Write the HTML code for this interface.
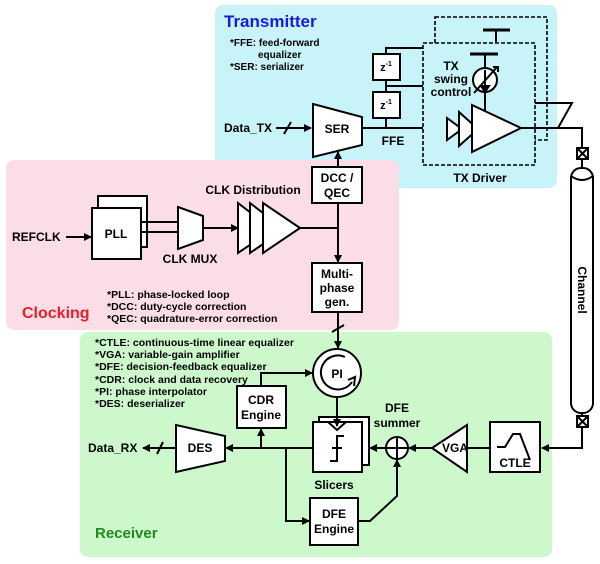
<!DOCTYPE html>
<html><head><meta charset="utf-8"><style>
html,body{margin:0;padding:0;background:#fff}
svg{display:block}
text{font-family:"Liberation Sans",Arial,sans-serif;font-weight:bold;fill:#000}
</style></head><body>
<svg width="600" height="564" viewBox="0 0 600 564" xmlns="http://www.w3.org/2000/svg">
<defs>
<marker id="a" markerWidth="8" markerHeight="8" refX="7" refY="4" orient="auto" markerUnits="userSpaceOnUse"><path d="M0,0 L8,4 L0,8 z" fill="#000"/></marker>
</defs>
<rect x="215" y="5" width="342" height="183" rx="8" fill="#c8f3f8"/>
<rect x="6" y="160" width="393" height="170" rx="8" fill="#fbdde8"/>
<rect x="80" y="332" width="472" height="225" rx="8" fill="#cdf8cc"/>

<g stroke="#000" stroke-width="2" fill="none">
<line x1="276" y1="128" x2="311" y2="128" marker-end="url(#a)"/>
<line x1="284" y1="134" x2="291" y2="122"/>
<path d="M313,104 L362,117 L362,145 L313,157 z" fill="#fff"/>
<line x1="362" y1="128" x2="447" y2="128"/>
<path d="M386,128 V48 H423 M386,86 H423"/>
<rect x="373" y="54" width="27" height="26" fill="#fff"/>
<rect x="373" y="92" width="27" height="26" fill="#fff"/>
<rect x="435" y="17" width="112" height="123" stroke-dasharray="4,2" stroke-width="1.6"/>
<line x1="483" y1="30" x2="510" y2="30" stroke-width="3"/>
<line x1="496" y1="30" x2="496" y2="42"/>
<rect x="423" y="43" width="112" height="122" stroke-dasharray="4,2" stroke-width="1.6" fill="#c8f3f8"/>
<line x1="470" y1="54" x2="498" y2="54" stroke-width="3"/>
<line x1="485" y1="54" x2="485" y2="112"/>
<circle cx="485" cy="80" r="12" fill="#fff"/>
<line x1="474" y1="93" x2="497" y2="67"/>
<path d="M493,67 H498 V72" />
<line x1="485" y1="70" x2="485" y2="90"/>
<path d="M481,86 L485,92 L489,86 z" fill="#000"/>
<path d="M447,118 L462,129 L447,140 z" fill="#fff"/>
<path d="M459,112 L478,129 L459,146 z" fill="#fff"/>
<path d="M472,105 L521,128 L472,152 z" fill="#fff"/>
<path d="M521,128 H582 V148"/>
<path d="M535,103 H572 L558,128"/>
<rect x="577" y="148" width="11" height="11" fill="#fff"/>
<path d="M577,148 L588,159 M588,148 L577,159"/>
<line x1="582" y1="159" x2="582" y2="168"/>
<rect x="571" y="168" width="22" height="245" rx="10" fill="#fff"/>
<path d="M571,176 Q582,184 593,176"/>
<line x1="582" y1="413" x2="582" y2="416"/>
<rect x="577" y="416" width="11" height="11" fill="#fff"/>
<path d="M577,416 L588,427 M588,416 L577,427"/>
<path d="M582,427 V448 H542" marker-end="url(#a)"/>
<line x1="66" y1="237" x2="91" y2="237" marker-end="url(#a)"/>
<rect x="98" y="196" width="49" height="51" fill="#fff"/>
<rect x="92" y="208" width="49" height="51" fill="#fff"/>
<path d="M141,222 H178 M141,232 H178"/>
<path d="M178,207 L203,216 L203,240 L178,249 z" fill="#fff"/>
<line x1="203" y1="228" x2="238" y2="228" marker-end="url(#a)"/>
<path d="M238,203 L260,220 L260,238 L238,253 z" fill="#fff"/>
<path d="M250,203 L272,220 L272,238 L250,253 z" fill="#fff"/>
<path d="M263,203 L300,228 L263,253 z" fill="#fff"/>
<path d="M300,228 H338"/>
<line x1="338" y1="203" x2="338" y2="262" marker-end="url(#a)"/>
<line x1="338" y1="167" x2="338" y2="152" marker-end="url(#a)"/>
<rect x="312" y="167" width="50" height="36" fill="#fff"/>
<rect x="312" y="263" width="50" height="49" fill="#fff"/>
<line x1="338" y1="312" x2="338" y2="348" marker-end="url(#a)"/>
<line x1="332" y1="332" x2="344" y2="325"/>
<circle cx="337" cy="373" r="24" fill="#fff"/>
<path d="M345,357 A17,17 0 1 0 352,382" />
<path d="M348,380 L355,377 L354,386" fill="none"/>
<path d="M261,386 V373 H312" marker-end="url(#a)"/>
<rect x="237" y="386" width="49" height="42" fill="#fff"/>
<rect x="319" y="417" width="50" height="48" fill="#fff"/>
<rect x="313" y="422" width="49" height="50" fill="#fff"/>
<path d="M328,422 L337,430 L346,422 z" fill="#fff"/>
<line x1="337" y1="397" x2="337" y2="426" marker-end="url(#a)"/>
<path d="M330,461 H337 V436 H344 M332,448 H342"/>
<line x1="313" y1="448" x2="226" y2="448" marker-end="url(#a)"/>
<line x1="261" y1="448" x2="261" y2="429" marker-end="url(#a)"/>
<path d="M286,448 V521 H309" marker-end="url(#a)"/>
<path d="M176,425 L225,436 L225,461 L176,472 z" fill="#fff"/>
<line x1="176" y1="448" x2="143" y2="448" marker-end="url(#a)"/>
<line x1="157" y1="454" x2="163" y2="442"/>
<rect x="310" y="498" width="48" height="47" fill="#fff"/>
<line x1="386" y1="448" x2="370" y2="448" marker-end="url(#a)"/>
<circle cx="397" cy="448" r="11" fill="#fff"/>
<path d="M386,448 H408 M397,437 V459"/>
<path d="M358,521 H370 L397,496 V460" marker-end="url(#a)"/>
<line x1="432" y1="448" x2="409" y2="448" marker-end="url(#a)"/>
<path d="M432,448 L467,425 L467,472 z" fill="#fff"/>
<line x1="467" y1="448" x2="490" y2="448"/>
<rect x="490" y="422" width="50" height="50" fill="#fff"/>
<path d="M497,447 H505 L513,434 H520 L530,460"/>
</g>

<text x="224" y="27" font-size="17" style="fill:#1a1adf">Transmitter</text>
<g font-size="10">
<text x="230" y="46">*FFE: feed-forward</text>
<text x="258" y="58">equalizer</text>
<text x="230" y="70">*SER: serializer</text>
</g>
<g font-size="12">
<text x="224" y="132" textLength="48">Data_TX</text>
<text x="337" y="133" text-anchor="middle">SER</text>
<text x="386" y="71" text-anchor="middle" font-size="11">z<tspan font-size="7" dy="-5">-1</tspan></text>
<text x="386" y="109" text-anchor="middle" font-size="11">z<tspan font-size="7" dy="-5">-1</tspan></text>
<text x="393" y="145" text-anchor="middle">FFE</text>
<text x="451" y="70" text-anchor="middle">TX</text>
<text x="451" y="83" text-anchor="middle">swing</text>
<text x="451" y="96" text-anchor="middle">control</text>
<text x="480" y="182" text-anchor="middle">TX Driver</text>
<text x="12" y="241">REFCLK</text>
<text x="116" y="238" text-anchor="middle">PLL</text>
<text x="190" y="263" text-anchor="middle">CLK MUX</text>
<text x="253" y="194" text-anchor="middle">CLK Distribution</text>
<text x="337" y="182" text-anchor="middle">DCC /</text>
<text x="337" y="197" text-anchor="middle">QEC</text>
<text x="337" y="278" text-anchor="middle">Multi-</text>
<text x="337" y="292" text-anchor="middle">phase</text>
<text x="337" y="306" text-anchor="middle">gen.</text>
<text x="337" y="378" text-anchor="middle">PI</text>
<text x="261" y="404" text-anchor="middle">CDR</text>
<text x="261" y="419" text-anchor="middle">Engine</text>
<text x="88" y="452">Data_RX</text>
<text x="200" y="452" text-anchor="middle">DES</text>
<text x="334" y="489" text-anchor="middle">Slicers</text>
<text x="334" y="518" text-anchor="middle">DFE</text>
<text x="334" y="533" text-anchor="middle">Engine</text>
<text x="397" y="412" text-anchor="middle">DFE</text>
<text x="397" y="427" text-anchor="middle">summer</text>
<text x="455" y="452" text-anchor="middle">VGA</text>
<text x="515" y="467" text-anchor="middle">CTLE</text>
<text x="578" y="290" text-anchor="middle" transform="rotate(90 578 290)">Channel</text>
</g>
<text x="22" y="318" font-size="16" style="fill:#e8202a">Clocking</text>
<g font-size="10.5">
<text x="107" y="298">*PLL: phase-locked loop</text>
<text x="107" y="310">*DCC: duty-cycle correction</text>
<text x="107" y="322">*QEC: quadrature-error correction</text>
<text x="95" y="346">*CTLE: continuous-time linear equalizer</text>
<text x="95" y="358">*VGA: variable-gain amplifier</text>
<text x="95" y="370">*DFE: decision-feedback equalizer</text>
<text x="95" y="383">*CDR: clock and data recovery</text>
<text x="95" y="395">*PI: phase interpolator</text>
<text x="95" y="407">*DES: deserializer</text>
</g>
<text x="95" y="538" font-size="15" style="fill:#1f8a1f">Receiver</text>
</svg>
</body></html>
